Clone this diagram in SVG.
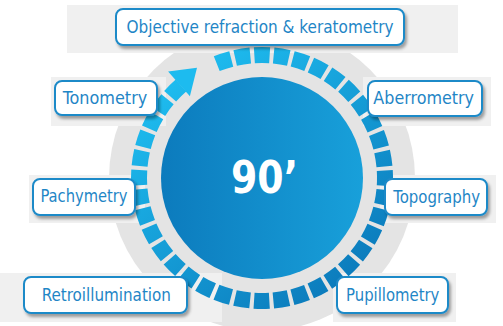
<svg xmlns="http://www.w3.org/2000/svg" width="503" height="326" viewBox="0 0 503 326">
  <defs>
    <linearGradient id="core" x1="0" y1="0" x2="1" y2="0">
      <stop offset="0" stop-color="#0c7bbd"/>
      <stop offset="1" stop-color="#18a0da"/>
    </linearGradient>
    <linearGradient id="dash" gradientUnits="userSpaceOnUse" x1="170" y1="60" x2="360" y2="300">
      <stop offset="0" stop-color="#1fc0f2"/>
      <stop offset="1" stop-color="#0a76b8"/>
    </linearGradient>
    <filter id="sh" x="-10%" y="-20%" width="125%" height="160%">
      <feDropShadow dx="2" dy="3" stdDeviation="1.8" flood-color="#000" flood-opacity="0.35"/>
    </filter>
    <style>
      .panel { fill: #f0f0f0; }
      .box { fill: #ffffff; stroke: #1e8ac8; stroke-width: 2; filter: url(#sh); }
      .lbl { font-family: "DejaVu Sans Condensed", "DejaVu Sans", "Liberation Sans", sans-serif; font-stretch: condensed; font-size: 17px; fill: #1f86c6; text-anchor: middle; }
    </style>
  </defs>

  <rect width="503" height="326" fill="#ffffff"/>

  <!-- gray disk -->
  <circle cx="262" cy="178" r="153" fill="#e4e4e4"/>

  <!-- label background panels -->
  <g id="panels">
    <rect class="panel" x="67" y="5" width="391" height="48"/>
    <rect class="panel" x="51" y="77" width="115" height="49"/>
    <rect class="panel" x="29" y="175" width="116" height="48"/>
    <rect class="panel" x="0" y="273" width="222" height="49"/>
    <rect class="panel" x="363" y="77" width="128" height="49"/>
    <rect class="panel" x="380" y="175" width="116" height="48"/>
    <rect class="panel" x="333" y="273" width="123" height="49"/>
  </g>

  <!-- central dial -->
  <g id="dial">
    <circle cx="262" cy="178" r="101" fill="url(#core)"/>
    <text x="264.5" y="193" font-family="'DejaVu Sans Condensed', 'DejaVu Sans', sans-serif" font-weight="bold" font-size="44" fill="#ffffff" text-anchor="middle" textLength="67" lengthAdjust="spacingAndGlyphs">90’</text>
  </g>

  <!-- connectors: dashed progress ring with arrowhead -->
  <g id="connectors">
    <path d="M214.93,64.36 A123,123 0 1 1 182.12,84.47" fill="none" stroke="url(#dash)" stroke-width="16" stroke-dasharray="15.3 4.02" stroke-dashoffset="17.31"/>
    <polygon points="168.1,71.5 197,67.7 189.9,96.2" fill="#1dbbef"/>
  </g>

  <g id="n-objective">
    <rect class="box" x="116" y="9" width="288" height="36" rx="7"/>
    <text class="lbl" x="260" y="33" textLength="267" lengthAdjust="spacingAndGlyphs">Objective refraction &amp; keratometry</text>
  </g>
  <g id="n-tonometry">
    <rect class="box" x="55" y="81" width="102" height="34" rx="7"/>
    <text class="lbl" x="105" y="104.3" textLength="84.6" lengthAdjust="spacingAndGlyphs">Tonometry</text>
  </g>
  <g id="n-pachymetry">
    <rect class="box" x="33" y="179" width="102" height="36" rx="7"/>
    <text class="lbl" x="84" y="202" textLength="87" lengthAdjust="spacingAndGlyphs">Pachymetry</text>
  </g>
  <g id="n-retroillumination">
    <rect class="box" x="24" y="277" width="163" height="36" rx="7"/>
    <text class="lbl" x="106.3" y="300.5" textLength="129.3" lengthAdjust="spacingAndGlyphs">Retroillumination</text>
  </g>
  <g id="n-aberrometry">
    <rect class="box" x="368" y="81" width="114" height="35" rx="7"/>
    <text class="lbl" x="423.7" y="104.3" textLength="100.7" lengthAdjust="spacingAndGlyphs">Aberrometry</text>
  </g>
  <g id="n-topography">
    <rect class="box" x="385" y="179" width="102" height="36" rx="7"/>
    <text class="lbl" x="436.7" y="202.5" textLength="86.7" lengthAdjust="spacingAndGlyphs">Topography</text>
  </g>
  <g id="n-pupillometry">
    <rect class="box" x="337" y="277" width="111" height="36" rx="7"/>
    <text class="lbl" x="392.7" y="300.5" textLength="93.3" lengthAdjust="spacingAndGlyphs">Pupillometry</text>
  </g>
</svg>
